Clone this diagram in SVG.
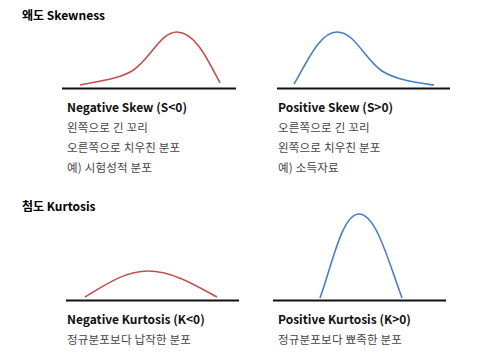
<svg xmlns="http://www.w3.org/2000/svg" width="478" height="358" viewBox="0 0 478 358">
<style>
text{font-family:"Noto Sans CJK KR","Noto Sans",sans-serif}
.t{font-size:12px;font-weight:bold;fill:#000}
.h{font-size:12px;font-weight:bold;fill:#111}
.d{font-size:11.5px;fill:#444;letter-spacing:0.2px}
.ax{stroke:#111;stroke-width:2;fill:none}
.r{stroke:#C0504D;stroke-width:1.6;fill:none}
.b{stroke:#4A7EC0;stroke-width:1.6;fill:none}
</style>
<rect width="478" height="358" fill="#fff"/>
<text class="t" x="22" y="20">왜도 Skewness</text>
<text class="t" x="22" y="211">첨도 Kurtosis</text>
<g id="connectors">
<line class="ax" x1="62" y1="88.5" x2="236" y2="88.5"/>
<line class="ax" x1="277" y1="88.5" x2="450" y2="88.5"/>
<line class="ax" x1="66" y1="300.5" x2="239" y2="300.5"/>
<line class="ax" x1="273" y1="300.5" x2="446" y2="300.5"/>
</g>
<g id="neg-skew">
<path class="r" d="M80,85 C100,81 118,79 132,71 C150,60 160,32 177,32 C195,32 208,60 220,83"/>
<text class="h" x="67" y="112">Negative Skew (S&lt;0)</text>
<text class="d" x="67" y="132">왼쪽으로 긴 꼬리</text>
<text class="d" x="67" y="152">오른쪽으로 치우친 분포</text>
<text class="d" x="67" y="172">예) 시험성적 분포</text>
</g>
<g id="pos-skew">
<path class="b" d="M294,84 C308,60 320,32 337,32 C355,32 365,60 382,71 C398,81 420,83 434,85"/>
<text class="h" x="278" y="112">Positive Skew (S&gt;0)</text>
<text class="d" x="278" y="132">오른쪽으로 긴 꼬리</text>
<text class="d" x="278" y="152">왼쪽으로 치우친 분포</text>
<text class="d" x="278" y="172">예) 소득자료</text>
</g>
<g id="neg-kurt">
<path class="r" d="M85,297 C105,285 125,271 148,271 C172,271 195,285 217,297"/>
<text class="h" x="67" y="324">Negative Kurtosis (K&lt;0)</text>
<text class="d" x="67" y="344">정규분포보다 납작한 분포</text>
</g>
<g id="pos-kurt">
<path class="b" d="M320,298 C332,265 342,214 359,214 C376,214 388,260 402,298"/>
<text class="h" x="278" y="324">Positive Kurtosis (K&gt;0)</text>
<text class="d" x="278" y="344">정규분포보다 뾰족한 분포</text>
</g>
</svg>
